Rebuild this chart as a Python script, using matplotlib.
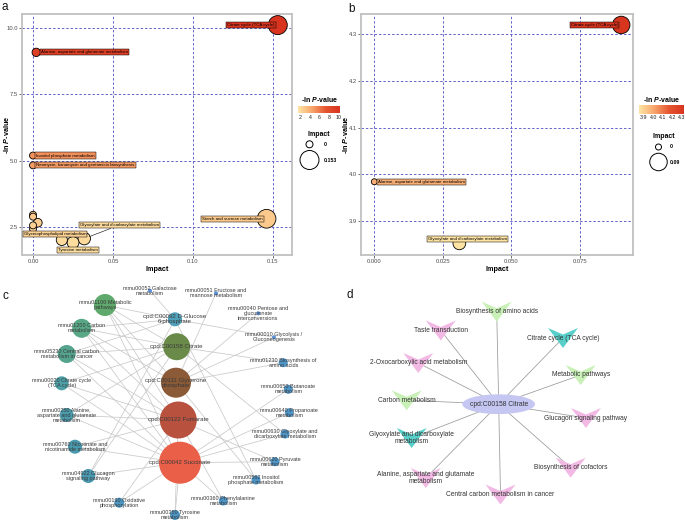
import numpy as np
import matplotlib
matplotlib.use("Agg")
import matplotlib.pyplot as plt
from matplotlib.colors import LinearSegmentedColormap, Normalize
from matplotlib.patches import Circle, Polygon, Ellipse
from matplotlib.cm import ScalarMappable

plt.rcParams['font.family'] = ['Liberation Sans', 'DejaVu Sans']
plt.rcParams['mathtext.fontset'] = 'custom'
plt.rcParams['mathtext.it'] = 'Liberation Sans:italic:bold'
plt.rcParams['mathtext.rm'] = 'Liberation Sans:bold'
plt.rcParams['mathtext.bf'] = 'Liberation Sans:bold'

# ---------------- Panel a data ----------------
a_names = ["Citrate cycle (TCA cycle)",
           "Alanine, aspartate and glutamate metabolism",
           "Inositol phosphate metabolism",
           "Neomycin, kanamycin and gentamicin biosynthesis",
           "Starch and sucrose metabolism",
           "Glyoxylate and dicarboxylate metabolism",
           "Glycerophospholipid metabolism",
           "Tyrosine metabolism",
           "", "", "", "", ""]
a_impact = [0.153, 0.002, 0.0, 0.0, 0.146, 0.032, 0.0, 0.025, 0.018, 0.003, 0.0, 0.0, 0.0]
a_lnp = [10.12, 9.09, 5.19, 4.82, 2.80, 2.05, 2.42, 1.90, 2.00, 2.65, 2.95, 2.88, 2.55]
a_label_x = [0.1511, 0.0051, 0.0020, 0.0020, 0.1436, 0.0292, -0.0058, 0.0154]
a_label_y = [10.12, 9.09, 5.19, 4.82, 2.80, 2.56, 2.21, 1.62]
a_label_ha = ["right", "left", "left", "left", "right", "left", "left", "left"]
a_xticks = [0.00, 0.05, 0.10, 0.15]
a_yticks = [2.5, 5.0, 7.5, 10.0]
a_cticks = [2, 4, 6, 8, 10]

# ---------------- Panel b data ----------------
b_names = ["Citrate cycle (TCA cycle)",
           "Alanine, aspartate and glutamate metabolism",
           "Glyoxylate and dicarboxylate metabolism"]
b_impact = [0.09, 0.0, 0.031]
b_lnp = [4.32, 3.984, 3.852]
b_label_x = [0.0889, 0.0013, 0.034]
b_label_y = [4.32, 3.984, 3.862]
b_label_ha = ["right", "left", "center"]
b_xticks = [0.000, 0.025, 0.050, 0.075]
b_yticks = [3.9, 4.0, 4.1, 4.2, 4.3]
b_cticks = [3.9, 4.0, 4.1, 4.2, 4.3]

# ---------------- Panel c data ----------------
c_compounds = ["C00092", "C00158", "C00111", "C00122", "C00042"]
c_compound_labels = ["cpd:C00092 D-Glucose\n6-phosphate", "cpd:C00158 Citrate",
                     "cpd:C00111 Glycerone\nphosphate", "cpd:C00122 Fumarate",
                     "cpd:C00042 Succinate"]
c_pathways = ["mmu01100", "mmu01200", "mmu05230", "mmu00020", "mmu00250", "mmu00760",
              "mmu04922", "mmu00190", "mmu00350", "mmu00360", "mmu00562", "mmu00620",
              "mmu00630", "mmu00640", "mmu00650", "mmu01230", "mmu00010", "mmu00040",
              "mmu00051", "mmu00052"]
c_pathway_labels = ["mmu01100 Metabolic\npathways", "mmu01200 Carbon\nmetabolism",
                    "mmu05230 Central carbon\nmetabolism in cancer",
                    "mmu00020 Citrate cycle\n(TCA cycle)",
                    "mmu00250 Alanine,\naspartate and glutamate\nmetabolism",
                    "mmu00760 Nicotinate and\nnicotinamide metabolism",
                    "mmu04922 Glucagon\nsignaling pathway",
                    "mmu00190 Oxidative\nphosphorylation",
                    "mmu00350 Tyrosine\nmetabolism",
                    "mmu00360 Phenylalanine\nmetabolism",
                    "mmu00562 Inositol\nphosphate metabolism",
                    "mmu00620 Pyruvate\nmetabolism",
                    "mmu00630 Glyoxylate and\ndicarboxylate metabolism",
                    "mmu00640 Propanoate\nmetabolism",
                    "mmu00650 Butanoate\nmetabolism",
                    "mmu01230 Biosynthesis of\namino acids",
                    "mmu00010 Glycolysis /\nGluconeogenesis",
                    "mmu00040 Pentose and\nglucuronate\ninterconversions",
                    "mmu00051 Fructose and\nmannose metabolism",
                    "mmu00052 Galactose\nmetabolism"]
c_edges = [
    ("C00092", "mmu01100"), ("C00092", "mmu01200"), ("C00092", "mmu05230"),
    ("C00092", "mmu04922"), ("C00092", "mmu00562"), ("C00092", "mmu00010"),
    ("C00092", "mmu00052"),
    ("C00158", "mmu01100"), ("C00158", "mmu01200"), ("C00158", "mmu05230"),
    ("C00158", "mmu00020"), ("C00158", "mmu00250"), ("C00158", "mmu04922"),
    ("C00158", "mmu01230"), ("C00158", "mmu00630"),
    ("C00111", "mmu01100"), ("C00111", "mmu01200"), ("C00111", "mmu00010"),
    ("C00111", "mmu00051"), ("C00111", "mmu00040"), ("C00111", "mmu00562"),
    ("C00111", "mmu01230"),
    ("C00122", "mmu01100"), ("C00122", "mmu01200"), ("C00122", "mmu05230"),
    ("C00122", "mmu00020"), ("C00122", "mmu00250"), ("C00122", "mmu00190"),
    ("C00122", "mmu00350"), ("C00122", "mmu00360"), ("C00122", "mmu00620"),
    ("C00122", "mmu00760"),
    ("C00042", "mmu01100"), ("C00042", "mmu01200"), ("C00042", "mmu05230"),
    ("C00042", "mmu00020"), ("C00042", "mmu00250"), ("C00042", "mmu00190"),
    ("C00042", "mmu00350"), ("C00042", "mmu00360"), ("C00042", "mmu00620"),
    ("C00042", "mmu00630"), ("C00042", "mmu00640"), ("C00042", "mmu00650"),
    ("C00042", "mmu00760"), ("C00042", "mmu04922"),
]

# ---------------- Panel d data ----------------
d_center = "cpd:C00158 Citrate"
d_pathways = ["Biosynthesis of amino acids", "Taste transduction",
              "Citrate cycle (TCA cycle)", "2-Oxocarboxylic acid metabolism",
              "Metabolic pathways", "Carbon metabolism", "Glucagon signaling pathway",
              "Glyoxylate and dicarboxylate\nmetabolism", "Biosynthesis of cofactors",
              "Alanine, aspartate and glutamate\nmetabolism",
              "Central carbon metabolism in cancer"]
d_group = ["green", "pink", "teal", "pink", "green", "green", "pink", "teal",
           "pink", "pink", "pink"]

# ---------------- layout (pixel positions of network nodes) ----------------
c_layout = {
    "C00092": (175.0, 319.3), "C00158": (176.7, 346.7), "C00111": (176.0, 382.7),
    "C00122": (178.3, 420.0), "C00042": (180.0, 462.7),
    "mmu01100": (105.0, 305.0), "mmu01200": (81.7, 328.3), "mmu05230": (66.7, 354.0),
    "mmu00020": (61.7, 383.3), "mmu00250": (66.7, 415.0), "mmu00760": (75.0, 446.7),
    "mmu04922": (88.3, 476.0), "mmu00190": (119.3, 502.7), "mmu00350": (175.0, 515.0),
    "mmu00360": (223.3, 501.0), "mmu00562": (256.0, 480.0), "mmu00620": (275.0, 461.7),
    "mmu00630": (285.0, 434.0), "mmu00640": (289.3, 412.7), "mmu00650": (288.3, 389.3),
    "mmu01230": (283.3, 362.7), "mmu00010": (274.0, 337.3), "mmu00040": (258.3, 313.3),
    "mmu00051": (216.0, 293.3), "mmu00052": (150.0, 290.7),
}
c_style = {
    "C00092": (7, "#4f9fb8"), "C00158": (13.5, "#6a8a4a"), "C00111": (15, "#8b5a36"),
    "C00122": (18.5, "#b8523f"), "C00042": (21, "#ea5f48"),
    "mmu01100": (11, "#5ea96b"), "mmu01200": (9.5, "#58a886"), "mmu05230": (9, "#54a48e"),
    "mmu00020": (7, "#4c9fa6"), "mmu00250": (7, "#4a9bab"), "mmu00760": (7, "#4a9aae"),
    "mmu04922": (7, "#4a99b0"), "mmu00190": (5, "#4e97c2"), "mmu00350": (5, "#4e96c5"),
    "mmu00360": (4.5, "#4e95c8"), "mmu00562": (4.5, "#4e95c8"), "mmu00620": (4.5, "#4e95c8"),
    "mmu00630": (4.5, "#4e95c8"), "mmu00640": (4.5, "#4e95c8"), "mmu00650": (4.5, "#4e95c8"),
    "mmu01230": (4.5, "#4e95c8"), "mmu00010": (2, "#5b8fd8"), "mmu00040": (2, "#5b8fd8"),
    "mmu00051": (2, "#5b8fd8"), "mmu00052": (2, "#5b8fd8"),
}
d_center_pos = (498.7, 404.2)
d_layout = [(496.7, 311.7), (440.8, 330.5), (563.0, 338.0), (418.3, 363.0),
            (580.7, 375.0), (406.7, 400.3), (586.0, 418.0), (411.7, 438.0),
            (570.7, 467.7), (425.8, 478.0), (500.5, 494.5)]
d_colors = {"green": "#c9f0b6", "pink": "#f2b9e4", "teal": "#58d0c9"}

# ---------------- figure ----------------
W, H = 685, 522
fig = plt.figure(figsize=(W / 100, H / 100), dpi=100)
canvas = fig.add_axes([0, 0, 1, 1])
canvas.set_xlim(0, W)
canvas.set_ylim(H, 0)
canvas.axis('off')


def px_axes(l, t, r, b):
    return fig.add_axes([l / W, 1 - b / H, (r - l) / W, (b - t) / H])


cmap = LinearSegmentedColormap.from_list("lnp", ["#fee4a4", "#f7a56c", "#e5552f", "#d8341f"])
PX2PT = 0.72


def diam(imp, dmin, dmax, imax):
    return dmin + (dmax - dmin) * np.sqrt(np.asarray(imp, dtype=float) / imax)


def bubble_panel(ax, impact, lnp, names, lx, ly, lha, norm, dmin, dmax, imax,
                 xlim, ylim, xticks, yticks, xfmt, yfmt, ylab_x, leader=None):
    impact = np.asarray(impact)
    lnp = np.asarray(lnp)
    d = diam(impact, dmin, dmax, imax)
    s = (d * PX2PT) ** 2
    cols = cmap(norm(lnp))
    order = np.argsort(-s)
    ax.scatter(impact[order], lnp[order], s=s[order], c=cols[order],
               edgecolors='black', linewidths=0.6, zorder=3)
    for i in range(len(lx)):
        ap = None
        if leader is not None and i == leader:
            ap = dict(arrowstyle='-', lw=0.4, color='black', shrinkA=0, shrinkB=4)
        ax.annotate(names[i], xy=(impact[i], lnp[i]), xytext=(lx[i], ly[i]),
                    ha=lha[i], va='center', fontsize=3.2, color='black', zorder=5,
                    bbox=dict(boxstyle='square,pad=0.25', fc=cols[i], ec='black', lw=0.35),
                    arrowprops=ap)
    ax.set_xlim(*xlim)
    ax.set_ylim(*ylim)
    ax.set_xticks(xticks)
    ax.set_yticks(yticks)
    ax.set_xticklabels([xfmt.format(v) for v in xticks])
    ax.set_yticklabels([yfmt.format(v) for v in yticks])
    ax.grid(True, color='#6464c8', linestyle=(0, (2.5, 2)), lw=0.7)
    ax.set_axisbelow(True)
    for sp in ax.spines.values():
        sp.set_color('#c0c0c0')
        sp.set_linewidth(1.3)
    ax.tick_params(length=2, width=0.5, color='#333333', labelsize=4.2,
                   labelcolor='#4d4d4d', pad=0.8)
    ax.set_xlabel('Impact', fontsize=5.2, fontweight='bold')
    ax.set_ylabel(r'-ln $P$-value', fontsize=5.2, fontweight='bold')
    ax.xaxis.set_label_coords(0.5, -0.045)
    ax.yaxis.set_label_coords(ylab_x, 0.5)


# Panel a
ax_a = px_axes(22, 14, 292, 255)
norm_a = Normalize(1.6, 10.12)
bubble_panel(ax_a, a_impact, a_lnp, a_names, a_label_x, a_label_y, a_label_ha, norm_a,
             7, 19, 0.153, (-0.0069, 0.1619), (1.43, 10.54), a_xticks, a_yticks,
             "{:.2f}", "{:.1f}", -0.04, leader=5)

# Panel b
ax_b = px_axes(361, 14, 633, 255)
norm_b = Normalize(3.85, 4.325)
bubble_panel(ax_b, b_impact, b_lnp, b_names, b_label_x, b_label_y, b_label_ha, norm_b,
             6, 17.5, 0.09, (-0.00486, 0.0943), (3.827, 4.3435), b_xticks, b_yticks,
             "{:.3f}", "{:.1f}", -0.039)


def legend_block(cax_box, norm, cticks, cfmt, title_xy, impact_title_xy, circ_x, circ_y,
                 lab_x, imp_vals, imp_labels, dmin, dmax, imax):
    cax = px_axes(*cax_box)
    cb = fig.colorbar(ScalarMappable(norm=norm, cmap=cmap), cax=cax, orientation='horizontal')
    cb.set_ticks(cticks)
    cb.set_ticklabels([cfmt.format(t) for t in cticks])
    cb.outline.set_visible(False)
    cax.tick_params(length=0, labelsize=3.8, pad=1.2, labelcolor='#222222')
    canvas.text(title_xy[0], title_xy[1], r'-ln $P$-value', fontsize=5, fontweight='bold',
                ha='center', va='center')
    canvas.text(impact_title_xy[0], impact_title_xy[1], 'Impact', fontsize=5,
                fontweight='bold', ha='center', va='center')
    d = diam(imp_vals, dmin, dmax, imax)
    canvas.scatter([circ_x] * len(imp_vals), circ_y, s=(d * PX2PT) ** 2, facecolors='white',
                   edgecolors='black', linewidths=0.7)
    for y, t in zip(circ_y, imp_labels):
        canvas.text(lab_x, y, t, fontsize=3.8, fontweight='bold', ha='left', va='center')


legend_block((298.3, 105.7, 339.5, 113.3), norm_a, a_cticks, "{:d}", (319.5, 100), (319, 134),
             309.5, [144.3, 160], 323.5, [0, 0.153], ["0", "0.153"], 7, 19, 0.153)
legend_block((639.3, 105, 684, 113.5), norm_b, b_cticks, "{:.1f}", (661.5, 99.5), (664, 137),
             658.5, [147, 162], 669.5, [0, 0.09], ["0", "0.09"], 6, 17.5, 0.09)

# ---------------- Panel c: network ----------------
for cpd, pw in c_edges:
    x0, y0 = c_layout[cpd]
    x1, y1 = c_layout[pw]
    canvas.plot([x0, x1], [y0, y1], color='#c9c9c9', lw=0.55, zorder=1)
for key in c_pathways + c_compounds:
    r, col = c_style[key]
    canvas.add_patch(Circle(c_layout[key], r, fc=col, ec='none', zorder=2))
for key, lab in zip(c_pathways, c_pathway_labels):
    x, y = c_layout[key]
    canvas.text(x, y, lab, ha='center', va='center', fontsize=4.0, color='#3a3a3a',
                linespacing=1.0, zorder=3)
for key, lab in zip(c_compounds, c_compound_labels):
    x, y = c_layout[key]
    canvas.text(x, y, lab, ha='center', va='center', fontsize=4.4, color='#3a3a3a',
                linespacing=1.0, zorder=3)

# ---------------- Panel d: citrate network ----------------
cx, cy = d_center_pos
for (x, y) in d_layout:
    canvas.plot([cx, x], [cy, y], color='#9a9a9a', lw=0.55, zorder=1)
vee = np.array([[-15, -10], [0, -3.5], [15, -10], [0, 10]])
for (x, y), g in zip(d_layout, d_group):
    canvas.add_patch(Polygon(vee + [x, y], closed=True, fc=d_colors[g], ec='none', zorder=2))
canvas.add_patch(Ellipse((cx, cy), 72.7, 19.7, fc='#c5c7f2', ec='none', zorder=2))
canvas.text(cx, cy, d_center, ha='center', va='center', fontsize=4.9, color='#333333', zorder=4)
for (x, y), lab in zip(d_layout, d_pathways):
    canvas.text(x, y, lab, ha='center', va='center', fontsize=4.8, color='#333333',
                linespacing=1.15, zorder=4)

# ---------------- panel letters ----------------
for letter, (x, y) in zip("abcd", [(4.5, 7.5), (351.5, 8.5), (5.5, 296), (349.5, 294.5)]):
    canvas.text(x, y, letter, fontsize=8.5, ha='center', va='center', color='#111111')

fig.savefig("out.png", dpi=100)
